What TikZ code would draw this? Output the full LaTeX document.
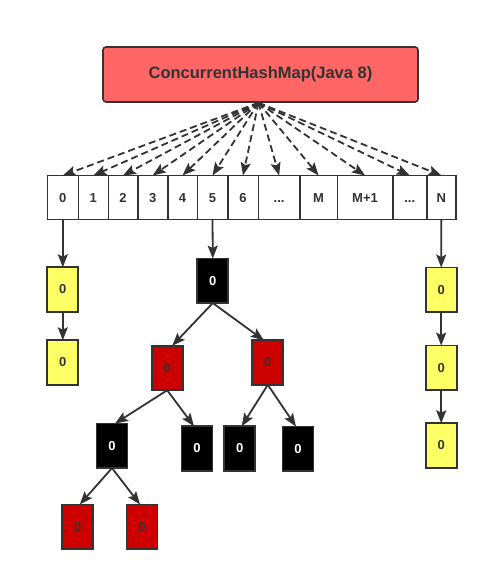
\documentclass[tikz,border=0pt]{standalone}
\usepackage{fontspec}
\setmainfont{Liberation Sans}
\usetikzlibrary{arrows.meta,calc}
\definecolor{edgec}{HTML}{333333}
\definecolor{titlec}{HTML}{FF6666}
\definecolor{redc}{HTML}{CC0000}
\definecolor{yelc}{HTML}{FFFF66}
\tikzset{
  box/.style={draw=edgec,line width=1.8pt,minimum width=31pt,minimum height=44.5pt,inner sep=0pt,outer sep=0pt,font=\bfseries\fontsize{13}{13}\selectfont},
  ybox/.style={box,fill=yelc,text=edgec},
  rbox/.style={box,fill=redc,text=edgec},
  bbox/.style={box,fill=black,text=white},
  cell/.style={draw=edgec,line width=1.6pt,minimum height=44pt,inner sep=0pt,outer sep=0pt,anchor=west,text height=9.5pt,text depth=0pt,font=\bfseries\fontsize{13}{13}\selectfont,text=edgec},
  arr/.style={draw=edgec,line width=1.8pt,-{Stealth[length=13pt,width=10pt,inset=2.5pt]}},
  darr/.style={arr,dash pattern=on 7pt off 4pt},
  titlebox/.style={draw=edgec,fill=titlec,rounded corners=3pt,line width=1.6pt,minimum width=315pt,minimum height=55pt,inner sep=0pt,font=\bfseries\fontsize{16.5}{16.5}\selectfont,text=edgec}
}
\begin{document}
\begin{tikzpicture}[x=1pt,y=-1pt]
\useasboundingbox[fill=white] (0,0) rectangle (488,581);
\node[titlebox] (top) at (260.5,74.5) {ConcurrentHashMap(Java 8)};
% array cells
\node[cell,minimum width=31pt] (c0) at (47.3,197.5) {0};
\node[cell,minimum width=30pt] (c1) at (78.3,197.5) {1};
\node[cell,minimum width=29.4pt] (c2) at (108.3,197.5) {2};
\node[cell,minimum width=30pt] (c3) at (137.7,197.5) {3};
\node[cell,minimum width=29.6pt] (c4) at (167.7,197.5) {4};
\node[cell,minimum width=30.4pt] (c5) at (197.3,197.5) {5};
\node[cell,minimum width=30.6pt] (c6) at (227.7,197.5) {6};
\node[cell,minimum width=41.7pt] (c7) at (258.3,197.5) {...};
\node[cell,minimum width=37.3pt] (c8) at (300,197.5) {M};
\node[cell,minimum width=55.4pt] (c9) at (337.3,197.5) {M+1};
\node[cell,minimum width=34pt] (c10) at (392.7,197.5) {...};
\node[cell,minimum width=29.3pt] (c11) at (426.7,197.5) {N};
\coordinate (hub) at ([xshift=-2pt]top.south);
\foreach \c in {c0,c1,c2,c3,c4,c5,c6,c7,c8,c9,c10,c11}
  \draw[darr] (hub) -- (\c.north);
% left list
\node[ybox] (y1) at (62.8,289.5) {0};
\node[ybox] (y2) at (62.8,362.5) {0};
% right list
\node[ybox] (z1) at (441.2,289.8) {0};
\node[ybox] (z2) at (441.2,367.8) {0};
\node[ybox] (z3) at (441.2,445.5) {0};
% tree
\node[bbox] (root) at (212.8,280.8) {0};
\node[rbox] (rl) at (167.2,368) {0};
\node[rbox] (rr) at (267.8,362.5) {0};
\node[bbox] (ll) at (112,445.8) {0};
\node[bbox] (lr) at (197,448.5) {0};
\node[bbox] (rla) at (239.7,448.5) {0};
\node[bbox] (rrb) at (298,448.8) {0};
\node[rbox] (lll) at (77.8,526.7) {0};
\node[rbox] (llr) at (142,526.7) {0};
% connectors
\draw[arr] (c0.south) -- (y1.north);
\draw[arr] (y1.south) -- (y2.north);
\draw[arr] (c11.south) -- (z1.north);
\draw[arr] (z1.south) -- (z2.north);
\draw[arr] (z2.south) -- (z3.north);
\draw[arr] (c5.south) -- (root.north);
\draw[arr] (root.south) -- ([xshift=5pt]rl.north);
\draw[arr] (root.south) -- ([xshift=-4pt]rr.north);
\draw[arr] (rl.south) -- ([xshift=3pt]ll.north);
\draw[arr] (rl.south) -- ([xshift=-3pt]lr.north);
\draw[arr] (rr.south) -- ([xshift=2pt]rla.north);
\draw[arr] (rr.south) -- ([xshift=-2pt]rrb.north);
\draw[arr] (ll.south) -- ([xshift=2pt]lll.north);
\draw[arr] (ll.south) -- ([xshift=-2pt]llr.north);
\end{tikzpicture}
\end{document}
